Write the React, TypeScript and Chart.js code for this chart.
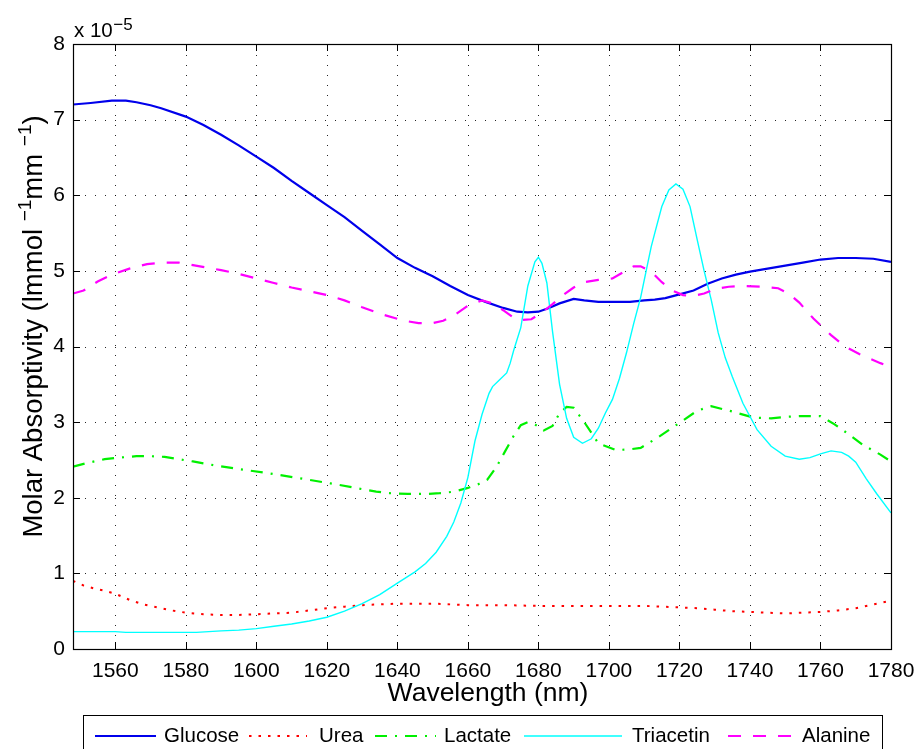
import React, { useEffect, useRef } from 'react';
import { Chart, registerables } from 'chart.js';
Chart.register(...registerables);

// ---------- data (absorptivity in units of 1e-5) ----------
const glucoseX = [1548, 1553, 1559, 1563, 1566, 1570, 1573, 1580, 1585, 1590, 1595, 1600, 1605, 1610, 1615, 1620, 1625, 1630, 1635, 1640, 1645, 1650, 1655, 1660, 1665, 1670, 1674, 1677, 1680, 1683, 1686, 1690, 1693, 1697, 1702, 1706, 1710, 1713, 1716, 1720, 1724, 1728, 1732, 1736, 1740, 1745, 1750, 1755, 1760, 1765, 1770, 1775, 1780];
const glucoseY = [7.20, 7.22, 7.25, 7.25, 7.23, 7.19, 7.15, 7.04, 6.93, 6.80, 6.66, 6.51, 6.36, 6.19, 6.03, 5.87, 5.71, 5.53, 5.35, 5.17, 5.04, 4.93, 4.80, 4.68, 4.59, 4.51, 4.46, 4.45, 4.46, 4.51, 4.57, 4.63, 4.61, 4.59, 4.59, 4.59, 4.61, 4.62, 4.64, 4.69, 4.74, 4.83, 4.90, 4.95, 4.99, 5.03, 5.07, 5.11, 5.15, 5.17, 5.17, 5.16, 5.12];

const ureaX = [1548, 1551, 1554, 1557, 1560, 1564, 1568, 1572, 1576, 1580, 1585, 1590, 1595, 1600, 1605, 1610, 1615, 1620, 1625, 1630, 1640, 1650, 1660, 1670, 1680, 1690, 1700, 1710, 1715, 1720, 1725, 1730, 1735, 1740, 1745, 1750, 1755, 1760, 1765, 1770, 1775, 1780];
const ureaY = [0.90, 0.84, 0.80, 0.77, 0.73, 0.65, 0.59, 0.55, 0.51, 0.48, 0.46, 0.45, 0.45, 0.46, 0.47, 0.48, 0.51, 0.54, 0.56, 0.58, 0.60, 0.60, 0.58, 0.58, 0.57, 0.57, 0.57, 0.57, 0.56, 0.55, 0.54, 0.52, 0.50, 0.49, 0.48, 0.47, 0.48, 0.49, 0.51, 0.54, 0.59, 0.64];

const lactateX = [1548, 1552, 1557, 1561, 1566, 1570, 1574, 1578, 1582, 1588, 1595, 1604, 1612, 1621, 1627, 1634, 1638, 1643, 1648, 1652, 1656, 1660, 1663, 1665.5, 1668, 1670.5, 1673, 1675, 1677, 1679, 1681.5, 1684, 1686, 1688, 1690, 1693, 1697, 1702, 1706, 1709, 1714, 1720, 1725, 1729, 1735, 1741, 1746, 1750, 1754, 1760, 1764, 1768, 1772, 1777, 1780];
const lactateY = [2.41, 2.46, 2.51, 2.53, 2.55, 2.55, 2.54, 2.51, 2.48, 2.43, 2.38, 2.32, 2.26, 2.19, 2.14, 2.08, 2.06, 2.05, 2.05, 2.06, 2.08, 2.13, 2.18, 2.24, 2.40, 2.61, 2.82, 2.96, 3.00, 2.97, 2.89, 2.95, 3.12, 3.20, 3.19, 3.00, 2.72, 2.63, 2.64, 2.66, 2.80, 2.99, 3.15, 3.21, 3.14, 3.06, 3.05, 3.07, 3.08, 3.08, 2.97, 2.84, 2.70, 2.57, 2.48];

const triacetinX = [1548, 1560, 1563, 1575, 1583, 1590, 1595, 1600, 1605, 1610, 1615, 1620, 1625, 1630, 1635, 1640, 1645, 1648, 1651, 1654, 1656, 1658, 1660, 1662, 1664, 1666, 1667, 1669, 1671, 1672, 1673, 1675, 1677, 1679, 1680, 1681, 1682.4, 1684, 1686, 1688, 1690, 1692.5, 1695, 1697, 1699, 1701, 1703, 1705, 1707, 1709, 1711, 1712, 1713, 1715, 1717, 1719, 1721, 1723, 1725, 1727, 1729, 1731, 1733, 1735, 1738, 1742, 1746, 1750, 1754, 1757, 1760, 1763, 1766, 1768, 1770, 1773, 1776, 1780];
const triacetinY = [0.23, 0.23, 0.22, 0.22, 0.22, 0.24, 0.25, 0.27, 0.30, 0.33, 0.37, 0.42, 0.50, 0.60, 0.72, 0.87, 1.02, 1.13, 1.28, 1.49, 1.68, 1.93, 2.27, 2.75, 3.10, 3.38, 3.47, 3.56, 3.65, 3.78, 3.95, 4.25, 4.80, 5.12, 5.18, 5.10, 4.84, 4.20, 3.50, 3.05, 2.80, 2.72, 2.78, 2.92, 3.12, 3.30, 3.58, 3.92, 4.30, 4.65, 5.10, 5.32, 5.50, 5.85, 6.07, 6.15, 6.08, 5.85, 5.42, 5.00, 4.62, 4.18, 3.85, 3.60, 3.25, 2.90, 2.68, 2.55, 2.51, 2.53, 2.58, 2.62, 2.60, 2.55, 2.47, 2.25, 2.05, 1.80];

const alanineX = [1548, 1551, 1555, 1559, 1564, 1569, 1574, 1578, 1584, 1590, 1595, 1600, 1605, 1610, 1615, 1620, 1625, 1630, 1636, 1642, 1646, 1650, 1653, 1656, 1660, 1664, 1667, 1670, 1673, 1675, 1678, 1681, 1684, 1687, 1690, 1693, 1697, 1701, 1704, 1707, 1709, 1712, 1715, 1718, 1721, 1724, 1727, 1730, 1734, 1738, 1743, 1748, 1751, 1754, 1758, 1763, 1767, 1771, 1774, 1777, 1780];
const alanineY = [4.70, 4.74, 4.86, 4.95, 5.03, 5.09, 5.11, 5.11, 5.06, 5.01, 4.96, 4.90, 4.84, 4.78, 4.73, 4.68, 4.61, 4.52, 4.42, 4.34, 4.31, 4.31, 4.34, 4.41, 4.54, 4.61, 4.57, 4.48, 4.38, 4.35, 4.36, 4.45, 4.56, 4.68, 4.78, 4.85, 4.88, 4.90, 4.98, 5.06, 5.06, 4.99, 4.85, 4.74, 4.68, 4.67, 4.70, 4.76, 4.79, 4.80, 4.79, 4.77, 4.70, 4.58, 4.37, 4.15, 4.00, 3.90, 3.84, 3.78, 3.73];

const seriesNames = ['Glucose', 'Urea', 'Lactate', 'Triacetin', 'Alanine'];
const xTicks = [1560, 1580, 1600, 1620, 1640, 1660, 1680, 1700, 1720, 1740, 1760, 1780];
const yTicks = [0, 1, 2, 3, 4, 5, 6, 7, 8];
const xTitle = 'Wavelength (nm)';
const yTitleParts = ['Molar Absorptivity (lmmol ', '\u22121', 'mm ', '\u22121', ')'];
const exponentText = ['x 10', '\u22125'];

const FONT = "'Liberation Sans', Arial, Helvetica, sans-serif";

const styles = [
  { color: 'rgb(0,0,235)', width: 2.2, dash: [] as number[] },
  { color: 'rgb(255,0,0)', width: 2, dash: [2.5, 7] },
  { color: 'rgb(0,240,0)', width: 2.2, dash: [12, 8, 2, 8] },
  { color: 'rgb(0,255,255)', width: 1.4, dash: [] as number[] },
  { color: 'rgb(255,0,255)', width: 2.2, dash: [13, 12] },
];

const zip = (xs: number[], ys: number[]) => xs.map((x, i) => ({ x, y: ys[i] }));

const decor = {
  id: 'decor',
  beforeDatasetsDraw(chart: any) {
    const { ctx, chartArea: a, scales } = chart;
    const x = scales.x, y = scales.y;
    ctx.save();
    ctx.strokeStyle = 'rgba(0,0,0,0.85)';
    ctx.lineWidth = 1;
    ctx.setLineDash([1, 9]);
    for (const v of xTicks) {
      const px = Math.round(x.getPixelForValue(v)) + 0.5;
      if (px > a.right - 3) continue;
      ctx.beginPath(); ctx.moveTo(px, a.top + 1); ctx.lineTo(px, a.bottom); ctx.stroke();
    }
    for (const v of yTicks) {
      const py = Math.round(y.getPixelForValue(v)) + 0.5;
      if (py < a.top + 3 || py > a.bottom - 3) continue;
      ctx.beginPath(); ctx.moveTo(a.left + 2, py); ctx.lineTo(a.right, py); ctx.stroke();
    }
    ctx.restore();
  },
  afterDraw(chart: any) {
    const { ctx, chartArea: a, scales } = chart;
    const x = scales.x, y = scales.y;
    ctx.save();
    // box
    ctx.setLineDash([]);
    ctx.strokeStyle = '#000';
    ctx.lineWidth = 1.2;
    ctx.strokeRect(Math.round(a.left) + 0.5, Math.round(a.top) + 0.5, Math.round(a.right - a.left), Math.round(a.bottom - a.top));
    // inward ticks
    const tl = 7;
    ctx.lineWidth = 1;
    ctx.beginPath();
    for (const v of xTicks) {
      const px = Math.round(x.getPixelForValue(v)) + 0.5;
      ctx.moveTo(px, a.bottom); ctx.lineTo(px, a.bottom - tl);
      ctx.moveTo(px, a.top); ctx.lineTo(px, a.top + tl);
    }
    for (const v of yTicks) {
      const py = Math.round(y.getPixelForValue(v)) + 0.5;
      ctx.moveTo(a.left, py); ctx.lineTo(a.left + tl, py);
      ctx.moveTo(a.right, py); ctx.lineTo(a.right - tl, py);
    }
    ctx.stroke();

    ctx.fillStyle = '#000';
    // exponent label
    ctx.textAlign = 'left';
    ctx.textBaseline = 'alphabetic';
    ctx.font = `20.5px ${FONT}`;
    ctx.fillText(exponentText[0], 74, 37);
    const w0 = ctx.measureText(exponentText[0]).width;
    ctx.font = `17px ${FONT}`;
    ctx.fillText(exponentText[1], 74 + w0 + 0.5, 30);

    // x title
    ctx.font = `26.5px ${FONT}`;
    ctx.textAlign = 'center';
    ctx.textBaseline = 'middle';
    ctx.fillText(xTitle, 488, 694);

    // y title (rotated, with superscripts)
    const mainSize = 27.5, supSize = 19;
    const partsW = yTitleParts.map((t, i) => {
      ctx.font = `${i % 2 === 1 ? supSize : mainSize}px ${FONT}`;
      return ctx.measureText(t).width;
    });
    const total = partsW.reduce((s, w) => s + w, 0);
    ctx.translate(42, 326.5);
    ctx.rotate(-Math.PI / 2);
    ctx.textAlign = 'left';
    ctx.textBaseline = 'alphabetic';
    let cx = -total / 2;
    yTitleParts.forEach((t, i) => {
      const sup = i % 2 === 1;
      ctx.font = `${sup ? supSize : mainSize}px ${FONT}`;
      ctx.fillText(t, cx, sup ? -11 : 0);
      cx += partsW[i];
    });
    ctx.setTransform(1, 0, 0, 1, 0, 0);

    // legend
    ctx.strokeStyle = '#000';
    ctx.lineWidth = 1;
    ctx.setLineDash([]);
    ctx.strokeRect(83.5, 715.5, 799, 60);
    const items = [
      { ls: 95, le: 156, tx: 164 },
      { ls: 249, le: 307, tx: 319 },
      { ls: 375, le: 436, tx: 444 },
      { ls: 524, le: 622, tx: 632 },
      { ls: 728, le: 793, tx: 802 },
    ];
    const ly = 736;
    ctx.font = `20.5px ${FONT}`;
    ctx.textAlign = 'left';
    ctx.textBaseline = 'middle';
    items.forEach((it, i) => {
      const st = styles[i];
      ctx.strokeStyle = st.color;
      ctx.lineWidth = st.width;
      ctx.setLineDash(st.dash);
      ctx.beginPath(); ctx.moveTo(it.ls, ly); ctx.lineTo(it.le, ly); ctx.stroke();
      ctx.fillStyle = '#000';
      ctx.fillText(seriesNames[i], it.tx, ly);
    });
    ctx.restore();
  },
};

export default function App() {
  const ref = useRef<HTMLCanvasElement | null>(null);
  useEffect(() => {
    if (!ref.current) return;
    const xs = [glucoseX, ureaX, lactateX, triacetinX, alanineX];
    const ys = [glucoseY, ureaY, lactateY, triacetinY, alanineY];
    const chart = new Chart(ref.current, {
      type: 'line',
      data: {
        datasets: seriesNames.map((name, i) => ({
          label: name,
          data: zip(xs[i], ys[i]),
          borderColor: styles[i].color,
          backgroundColor: styles[i].color,
          borderWidth: styles[i].width,
          borderDash: styles[i].dash,
          pointRadius: 0,
          tension: 0,
          fill: false,
          order: 5 - i,
        })),
      },
      options: {
        responsive: false,
        animation: false,
        devicePixelRatio: 1,
        layout: { padding: { left: 0, top: 44, right: 26, bottom: 0 } },
        plugins: { legend: { display: false }, tooltip: { enabled: false }, title: { display: false } },
        scales: {
          x: {
            type: 'linear',
            min: 1548,
            max: 1780,
            afterBuildTicks: (s: any) => { s.ticks = xTicks.map((v) => ({ value: v })); },
            afterFit: (s: any) => { s.height = 100; s.paddingLeft = 0; s.paddingRight = 0; },
            grid: { display: false, drawTicks: false },
            border: { display: false },
            ticks: { color: '#000', font: { family: FONT, size: 21 }, padding: 10, maxRotation: 0, autoSkip: false, callback: (v: any) => String(v) },
          },
          y: {
            type: 'linear',
            min: 0,
            max: 8,
            afterBuildTicks: (s: any) => { s.ticks = yTicks.map((v) => ({ value: v })); },
            afterFit: (s: any) => { s.width = 73; s.paddingTop = 0; s.paddingBottom = 0; },
            grid: { display: false, drawTicks: false },
            border: { display: false },
            ticks: { color: '#000', font: { family: FONT, size: 21 }, padding: 8, autoSkip: false, callback: (v: any) => String(v) },
          },
        },
      },
      plugins: [decor],
    });
    return () => chart.destroy();
  }, []);
  return (
    <div style={{ position: 'absolute', left: 0, top: 0, width: 917, height: 749, overflow: 'hidden', background: '#fff' }}>
      <canvas ref={ref} width={917} height={749} style={{ width: 917, height: 749, display: 'block' }} />
    </div>
  );
}
